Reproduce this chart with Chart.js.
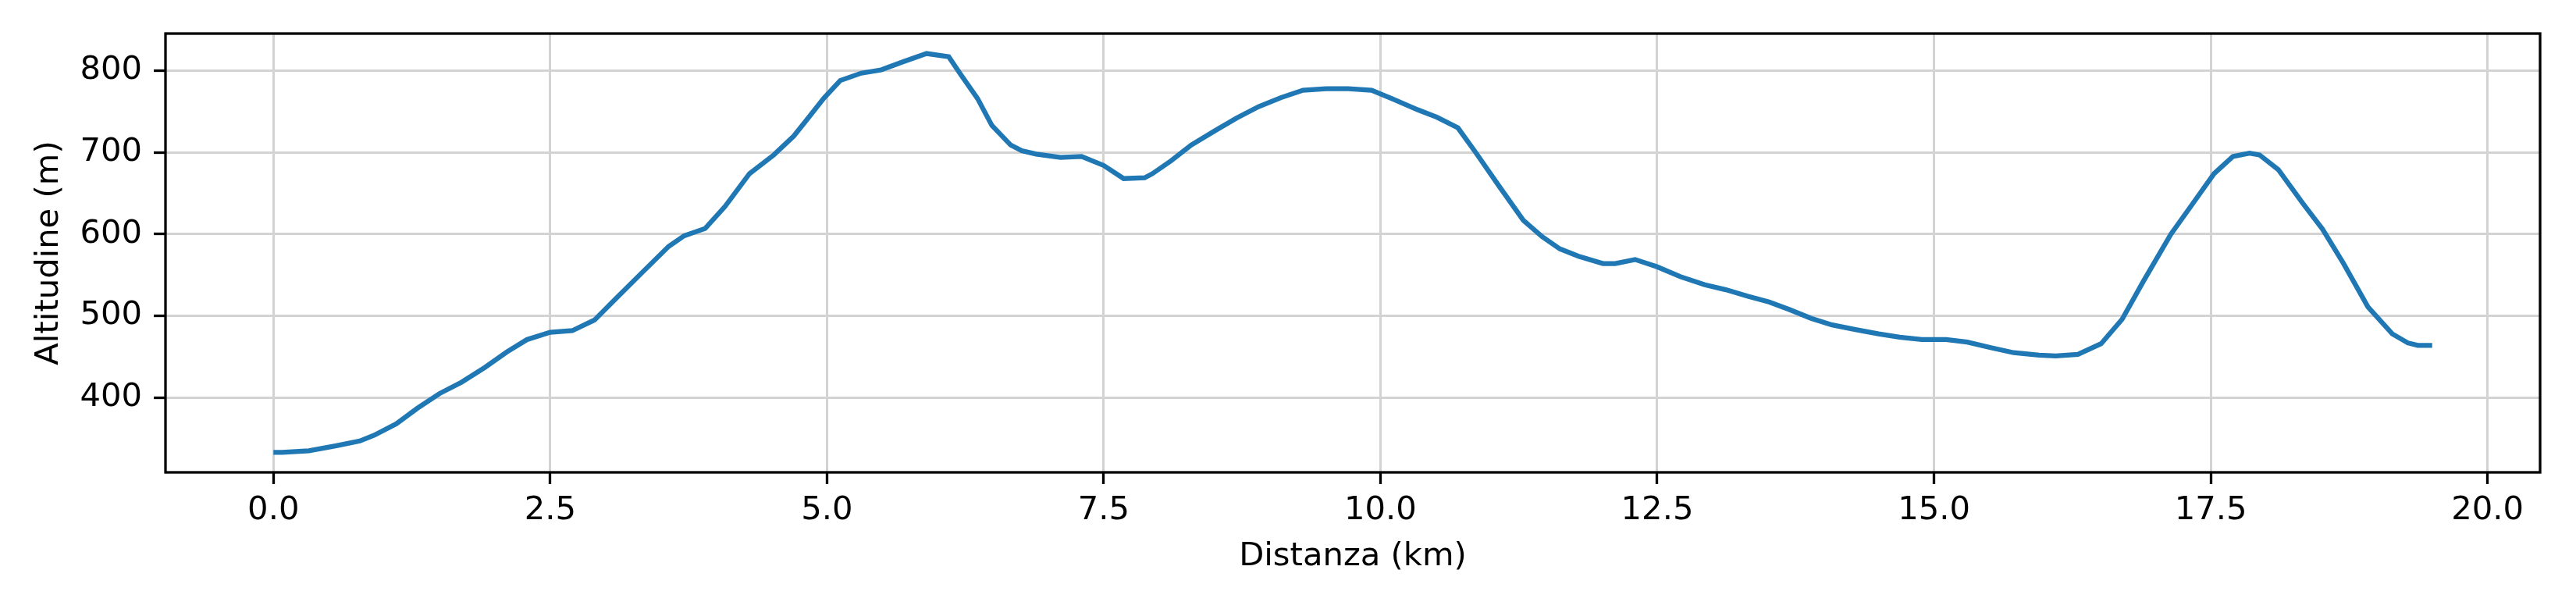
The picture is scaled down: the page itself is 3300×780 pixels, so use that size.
<!DOCTYPE html>
<html>
<head>
<meta charset="utf-8">
<script src="https://cdn.jsdelivr.net/npm/chart.js@4"></script>
<style>
  html, body { margin: 0; padding: 0; background: #fff; }
  #wrap { width: 3300px; height: 780px; }
</style>
</head>
<body>
<div id="wrap"><canvas id="myChart" width="3300" height="780"></canvas></div>
<script>
// elevation profile
const distKm = [0.00, 0.08, 0.32, 0.56, 0.78, 0.91, 1.11, 1.30, 1.50, 1.70, 1.91, 2.11, 2.29, 2.50, 2.70, 2.90,
  3.10, 3.33, 3.57, 3.71, 3.90, 4.08, 4.30, 4.52, 4.70, 4.83, 4.97, 5.12, 5.31, 5.49, 5.69, 5.90,
  6.10, 6.21, 6.36, 6.49, 6.66, 6.76, 6.89, 7.11, 7.30, 7.50, 7.68, 7.87, 7.94, 8.11, 8.29, 8.51,
  8.70, 8.90, 9.10, 9.30, 9.51, 9.71, 9.92, 10.10, 10.34, 10.51, 10.70, 10.86, 11.07, 11.29, 11.46,
  11.62, 11.79, 12.01, 12.12, 12.30, 12.50, 12.71, 12.93, 13.12, 13.32, 13.51, 13.69, 13.89, 14.08,
  14.30, 14.50, 14.69, 14.89, 15.11, 15.30, 15.52, 15.72, 15.95, 16.10, 16.30, 16.51, 16.70, 16.89,
  17.14, 17.33, 17.53, 17.70, 17.85, 17.94, 18.11, 18.33, 18.51, 18.70, 18.92, 19.14, 19.28, 19.37, 19.50];
const altitudeM = [333, 333, 335, 341, 347, 354, 368, 387, 405, 419, 437, 456, 471, 480, 482, 495,
  522, 553, 585, 598, 607, 634, 674, 697, 720, 742, 766, 788, 797, 801, 811, 821,
  817, 795, 766, 733, 709, 702, 698, 694, 695, 684, 668, 669, 674, 690, 709, 727,
  742, 756, 767, 776, 778, 778, 776, 766, 752, 743, 730, 700, 659, 617, 597,
  582, 573, 564, 564, 569, 560, 548, 538, 532, 524, 517, 508, 497, 489,
  483, 478, 474, 471, 471, 468, 461, 455, 452, 451, 453, 466, 496, 542,
  600, 636, 674, 695, 699, 697, 679, 638, 606, 564, 511, 478, 467, 464, 464];
const xTicks = [0, 2.5, 5, 7.5, 10, 12.5, 15, 17.5, 20];
const yTicks = [400, 500, 600, 700, 800];

const points = distKm.map((d, i) => ({x: d, y: altitudeM[i]}));

Chart.defaults.color = "#000";
Chart.defaults.font.family = "'DejaVu Sans', sans-serif";
Chart.defaults.font.size = 41.7;

const frame = {
  id: "frame",
  afterDatasetsDraw(chart) {
    const a = chart.chartArea, ctx = chart.ctx;
    ctx.save();
    ctx.strokeStyle = "#000";
    ctx.lineWidth = 3.3;
    ctx.strokeRect(a.left, a.top, a.right - a.left, a.bottom - a.top);
    ctx.restore();
  }
};

var ctx = document.getElementById("myChart");
var myChart = new Chart(ctx, {
  type: "line",
  data: {
    datasets: [{
      data: points,
      borderColor: "#1f77b4",
      borderWidth: 6.25,
      pointRadius: 0,
      tension: 0,
      fill: false
    }]
  },
  options: {
    responsive: false,
    animation: false,
    devicePixelRatio: 1,
    layout: { padding: { left: 0, top: 43, right: 46, bottom: 0 } },
    plugins: { legend: { display: false }, tooltip: { enabled: false } },
    scales: {
      x: {
        type: "linear",
        min: -0.975,
        max: 20.475,
        afterBuildTicks: (s) => { s.ticks = xTicks.map(v => ({value: v})); },
        afterFit: (s) => { s.height = 175; },
        ticks: { padding: 9, maxRotation: 0, callback: (v) => Number(v).toFixed(1) },
        grid: { color: "#d3d3d3", lineWidth: 3, tickColor: "#000", tickWidth: 3.3, tickLength: 15 },
        border: { display: false },
        title: { display: true, text: "Distanza (km)", padding: { top: 0, bottom: 42 } }
      },
      y: {
        type: "linear",
        min: 308.6,
        max: 845.4,
        afterBuildTicks: (s) => { s.ticks = yTicks.map(v => ({value: v})); },
        afterFit: (s) => { s.width = 212; },
        ticks: { padding: 15 },
        grid: { color: "#d3d3d3", lineWidth: 3, tickColor: "#000", tickWidth: 3.3, tickLength: 15 },
        border: { display: false },
        title: { display: true, text: "Altitudine (m)", padding: { top: 38, bottom: 0 } }
      }
    }
  },
  plugins: [frame]
});
</script>
</body>
</html>
